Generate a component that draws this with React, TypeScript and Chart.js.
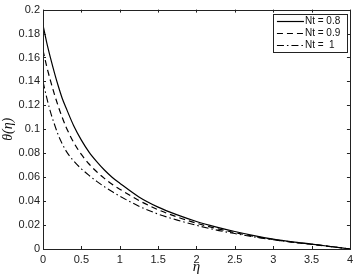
import React, { useEffect, useRef } from "react";
import { Chart, registerables } from "chart.js";

Chart.register(...registerables);

const eta = [0, 0.05, 0.1, 0.15, 0.2, 0.25, 0.3, 0.4, 0.5, 0.6, 0.7, 0.8, 0.9, 1.0, 1.25, 1.5, 1.75, 2.0, 2.25, 2.5, 2.75, 3.0, 3.25, 3.5, 3.75, 4.0];
const nt08 = [0.187, 0.172, 0.159, 0.147, 0.136, 0.126, 0.118, 0.103, 0.091, 0.081, 0.073, 0.066, 0.06, 0.055, 0.0435, 0.035, 0.0285, 0.023, 0.0185, 0.0146, 0.0112, 0.0083, 0.006, 0.0041, 0.0021, 0];
const nt09 = [0.166, 0.152, 0.14, 0.129, 0.119, 0.11, 0.102, 0.089, 0.079, 0.071, 0.0645, 0.059, 0.054, 0.05, 0.0405, 0.0328, 0.0267, 0.0216, 0.0173, 0.0137, 0.0106, 0.0079, 0.0057, 0.0039, 0.002, 0];
const nt1 = [0.14, 0.126, 0.114, 0.104, 0.095, 0.088, 0.082, 0.0735, 0.067, 0.0615, 0.0565, 0.052, 0.048, 0.0442, 0.0358, 0.0292, 0.0241, 0.0198, 0.016, 0.0129, 0.0101, 0.0077, 0.0057, 0.004, 0.0021, 0];
const seriesLabels = ["Nt = 0.8", "Nt = 0.9", "Nt =  1"];
const xTitle = "η";
const yTitle = "θ(η)";

const FONT = "'Liberation Sans', Arial, sans-serif";

const innerTicks = {
  id: "innerTicks",
  afterDraw(chart: any) {
    const { ctx, chartArea: a, scales } = chart;
    ctx.save();
    ctx.strokeStyle = "#222";
    ctx.lineWidth = 1;
    const L = 3;
    ctx.beginPath();
    scales.x.ticks.forEach((t: any) => {
      const px = Math.round(scales.x.getPixelForValue(t.value)) + 0.5;
      ctx.moveTo(px, a.bottom);
      ctx.lineTo(px, a.bottom - L);
      ctx.moveTo(px, a.top);
      ctx.lineTo(px, a.top + L);
    });
    scales.y.ticks.forEach((t: any) => {
      const py = Math.round(scales.y.getPixelForValue(t.value)) + 0.5;
      ctx.moveTo(a.left, py);
      ctx.lineTo(a.left + L, py);
      ctx.moveTo(a.right, py);
      ctx.lineTo(a.right - L, py);
    });
    ctx.stroke();
    ctx.strokeRect(Math.round(a.left) + 0.5, Math.round(a.top) + 0.5, Math.round(a.right - a.left), Math.round(a.bottom - a.top));
    ctx.restore();
  },
};

const boxLegend = {
  id: "boxLegend",
  afterDraw(chart: any) {
    const { ctx, chartArea: a } = chart;
    const bx = a.right - 77;
    const by = a.top + 4;
    const bw = 74;
    const bh = 38;
    ctx.save();
    ctx.fillStyle = "#fff";
    ctx.fillRect(bx, by, bw, bh);
    ctx.strokeStyle = "#222";
    ctx.lineWidth = 1;
    ctx.setLineDash([]);
    ctx.strokeRect(Math.round(bx) + 0.5, Math.round(by) + 0.5, bw, bh);
    ctx.font = "10px " + FONT;
    ctx.textBaseline = "middle";
    ctx.fillStyle = "#111";
    chart.data.datasets.forEach((ds: any, i: number) => {
      const y = Math.round(by + 7 + i * 12.3) + 0.5;
      ctx.beginPath();
      ctx.setLineDash(ds.borderDash || []);
      ctx.lineWidth = ds.borderWidth;
      ctx.strokeStyle = ds.borderColor;
      ctx.moveTo(bx + 4, y);
      ctx.lineTo(bx + 31, y);
      ctx.stroke();
      ctx.setLineDash([]);
      ctx.fillText(ds.label, bx + 32, y);
    });
    ctx.restore();
  },
};

export default function App() {
  const ref = useRef<HTMLCanvasElement>(null);
  useEffect(() => {
    document.body.style.margin = "0";
    const mk = (vals: number[]) => eta.map((x, i) => ({ x, y: vals[i] }));
    const chart = new Chart(ref.current!, {
      type: "line",
      data: {
        datasets: [
          { label: seriesLabels[0], data: mk(nt08), borderColor: "#000", borderWidth: 1.2, borderDash: [], pointRadius: 0, fill: false, cubicInterpolationMode: "monotone" },
          { label: seriesLabels[1], data: mk(nt09), borderColor: "#000", borderWidth: 1.2, borderDash: [6, 4], pointRadius: 0, fill: false, cubicInterpolationMode: "monotone" },
          { label: seriesLabels[2], data: mk(nt1), borderColor: "#000", borderWidth: 1.1, borderDash: [7, 3, 1.5, 3], pointRadius: 0, fill: false, cubicInterpolationMode: "monotone" },
        ],
      },
      options: {
        animation: false,
        responsive: false,
        layout: { padding: { left: 0, right: 4, top: 5, bottom: 0 } },
        plugins: { legend: { display: false }, tooltip: { enabled: false } },
        scales: {
          x: {
            type: "linear",
            min: 0,
            max: 4,
            grid: { display: false, drawTicks: false },
            border: { display: false },
            ticks: { stepSize: 0.5, padding: 4, color: "#222", font: { family: FONT, size: 11 }, callback: (v: any) => String(+(+v).toFixed(1)), maxRotation: 0 },
            title: { display: true, text: xTitle, color: "#111", font: { family: "'Liberation Serif', serif", size: 15, style: "italic" }, padding: { top: -3, bottom: 0 } },
            afterFit: (s: any) => { s.height = 27; },
          },
          y: {
            type: "linear",
            min: 0,
            max: 0.2,
            grid: { display: false, drawTicks: false },
            border: { display: false },
            ticks: { stepSize: 0.02, padding: 3, color: "#222", font: { family: FONT, size: 11 }, callback: (v: any) => String(+(+v).toFixed(2)) },
            title: { display: true, text: yTitle, color: "#111", font: { family: "'Liberation Serif', serif", size: 14, style: "italic" }, padding: { top: 0, bottom: 2 } },
            afterFit: (s: any) => { s.width = 43; },
          },
        },
      },
      plugins: [innerTicks, boxLegend],
    } as any);
    return () => chart.destroy();
  }, []);
  return (
    <div style={{ position: "fixed", left: 0, top: 0, width: 357, height: 276 }}>
      <canvas ref={ref} width={357} height={276} style={{ width: 357, height: 276 }} />
    </div>
  );
}
